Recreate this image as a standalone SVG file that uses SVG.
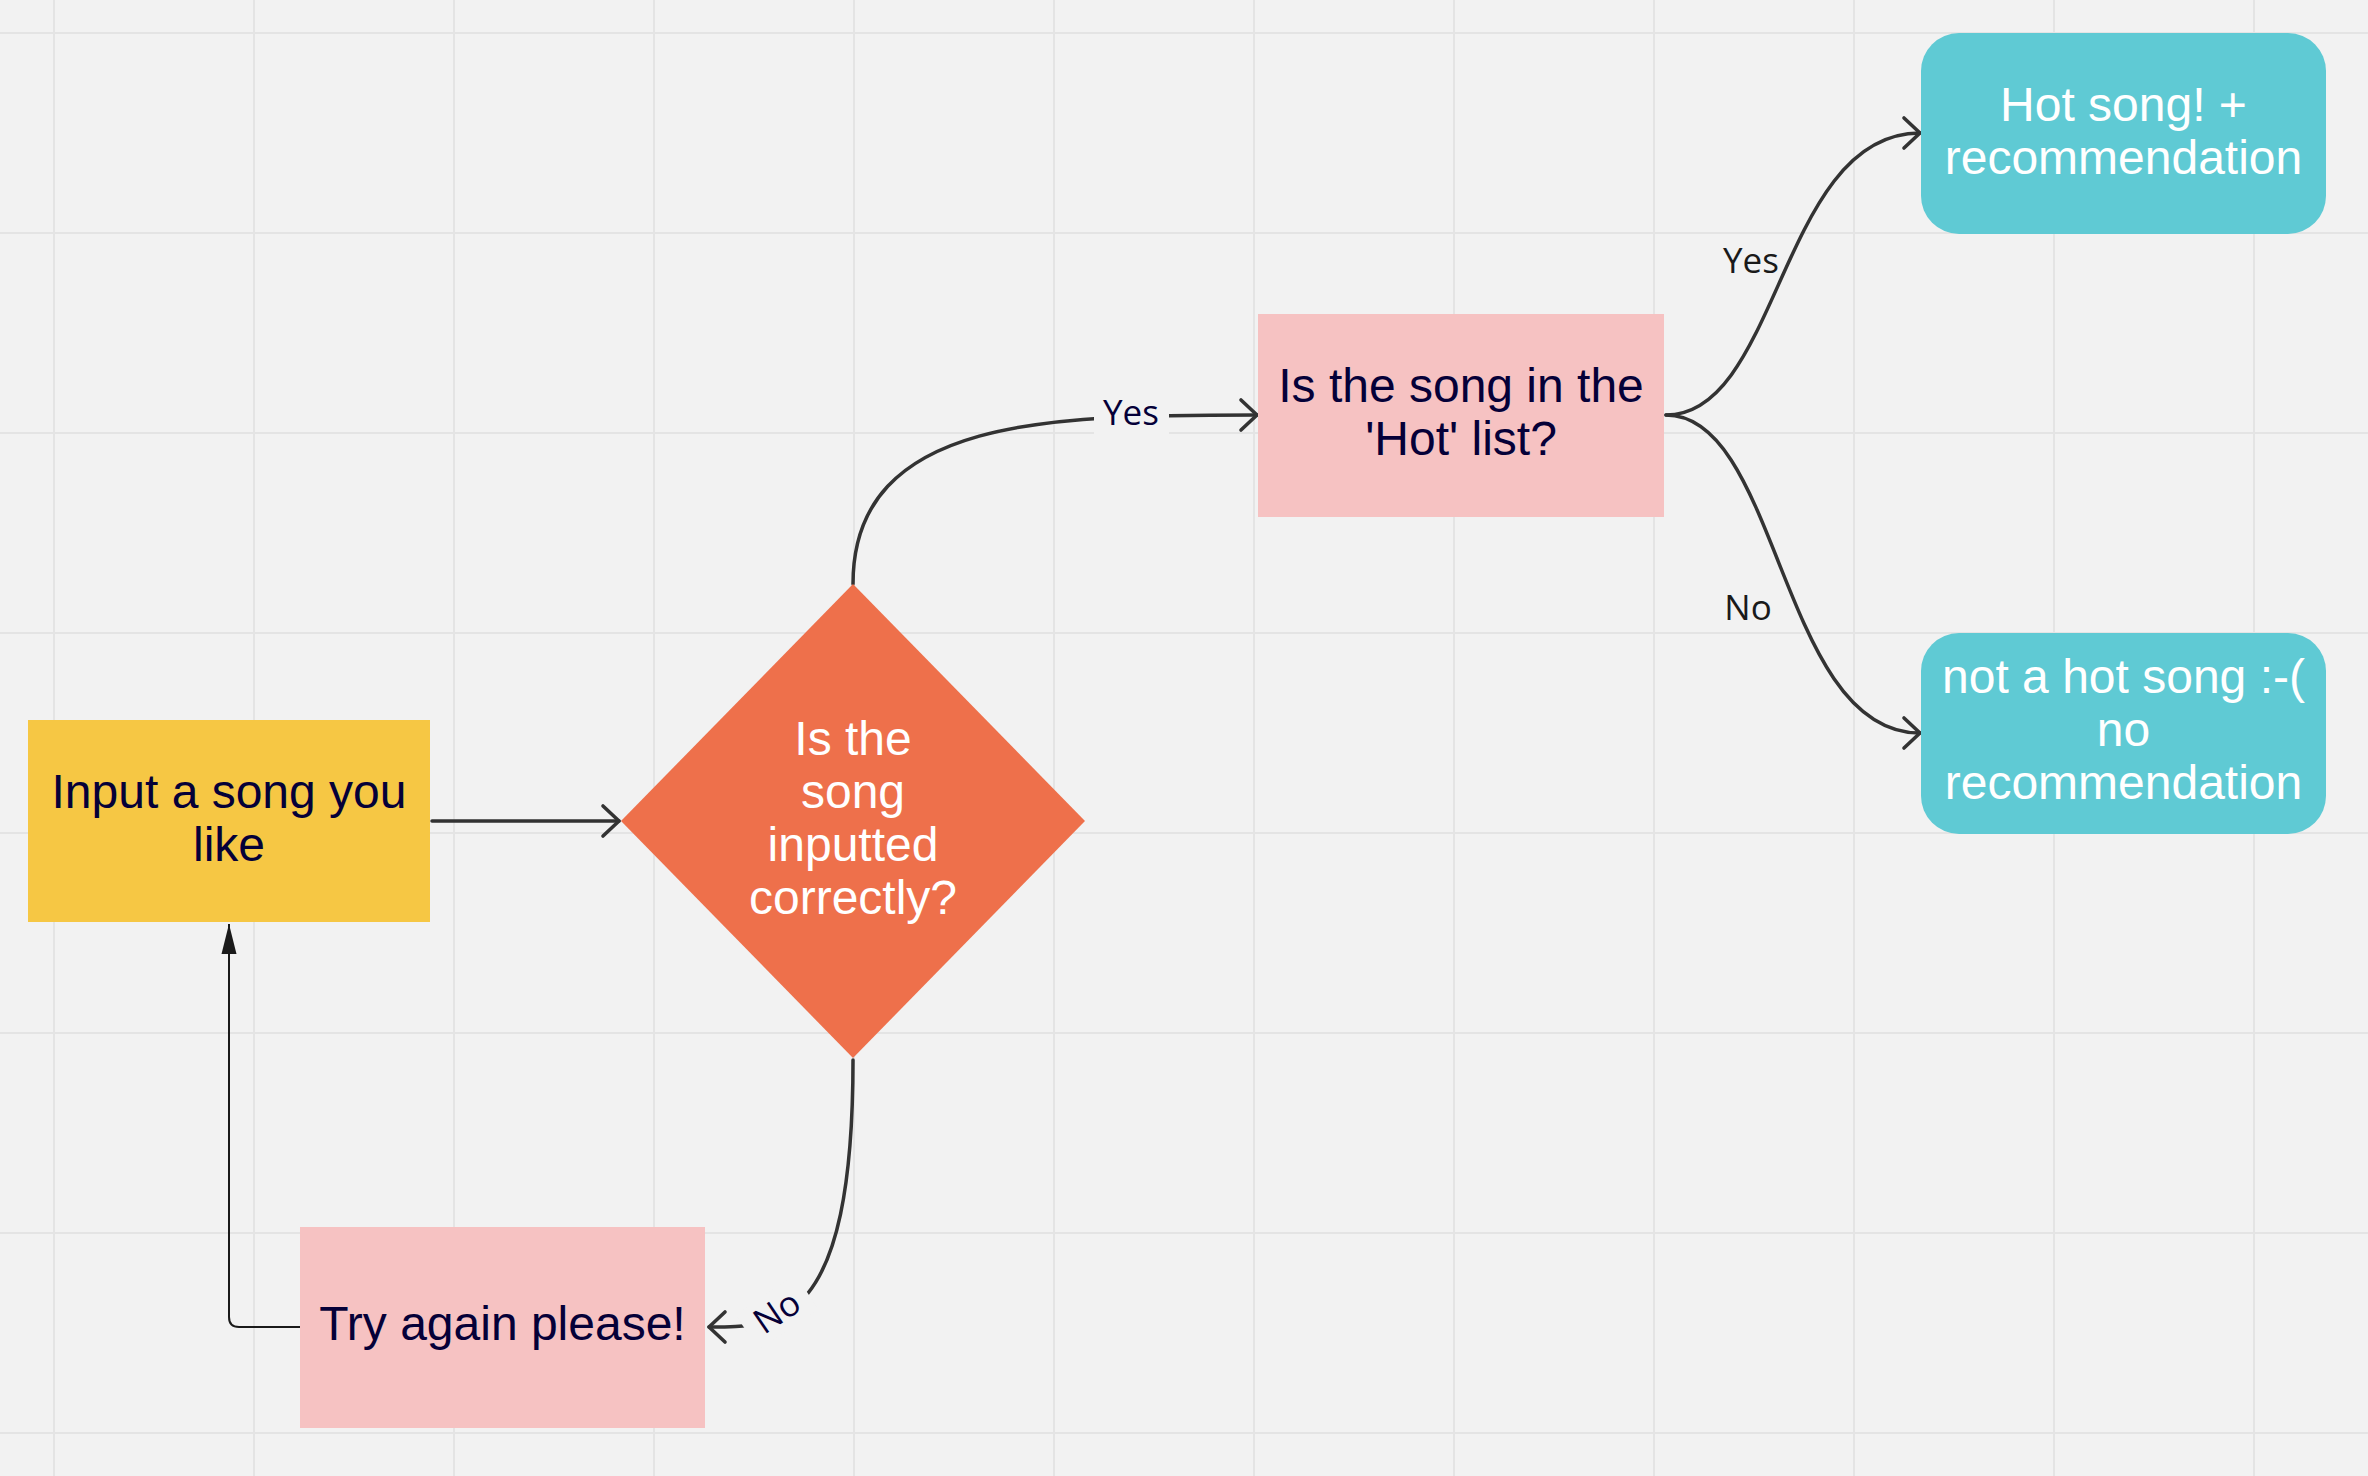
<svg xmlns="http://www.w3.org/2000/svg" width="2368" height="1476" viewBox="0 0 2368 1476">
<style>
.grid line{stroke:#e4e4e4;stroke-width:2}
.nt{font-family:"Liberation Sans",Arial,sans-serif;font-size:48px;text-anchor:middle}
.dark{fill:#050038}
.light{fill:#ffffff}
.edge{fill:none;stroke:#333333;stroke-width:3.5;stroke-linecap:round}
.lbl{font-family:"Open Sans","DejaVu Sans",sans-serif;font-size:35px;text-anchor:middle}
.mask{fill:#f2f2f2}
</style>
<defs>
<marker id="chev" markerUnits="userSpaceOnUse" markerWidth="40" markerHeight="40" viewBox="-20 -20 40 40" refX="0" refY="0" orient="auto" overflow="visible">
<path d="M-16,-15 L0,0 L-16,15" fill="none" stroke="#333333" stroke-width="3.6" stroke-linecap="round" stroke-linejoin="round"/>
</marker>
<marker id="tri" markerUnits="userSpaceOnUse" markerWidth="40" markerHeight="40" viewBox="-35 -20 40 40" refX="0" refY="0" orient="auto" overflow="visible">
<path d="M-30,-7.5 L0,0 L-30,7.5 Z" fill="#1a1a1a"/>
</marker>
</defs>
<rect width="2368" height="1476" fill="#f2f2f2"/>
<g class="grid">
<line x1="54" y1="0" x2="54" y2="1476"/>
<line x1="254" y1="0" x2="254" y2="1476"/>
<line x1="454" y1="0" x2="454" y2="1476"/>
<line x1="654" y1="0" x2="654" y2="1476"/>
<line x1="854" y1="0" x2="854" y2="1476"/>
<line x1="1054" y1="0" x2="1054" y2="1476"/>
<line x1="1254" y1="0" x2="1254" y2="1476"/>
<line x1="1454" y1="0" x2="1454" y2="1476"/>
<line x1="1654" y1="0" x2="1654" y2="1476"/>
<line x1="1854" y1="0" x2="1854" y2="1476"/>
<line x1="2054" y1="0" x2="2054" y2="1476"/>
<line x1="2254" y1="0" x2="2254" y2="1476"/>
<line x1="0" y1="33" x2="2368" y2="33"/>
<line x1="0" y1="233" x2="2368" y2="233"/>
<line x1="0" y1="433" x2="2368" y2="433"/>
<line x1="0" y1="633" x2="2368" y2="633"/>
<line x1="0" y1="833" x2="2368" y2="833"/>
<line x1="0" y1="1033" x2="2368" y2="1033"/>
<line x1="0" y1="1233" x2="2368" y2="1233"/>
<line x1="0" y1="1433" x2="2368" y2="1433"/>
</g>
<g id="connectors">
<path class="edge" d="M432,821 L619,821" marker-end="url(#chev)"/>
<path class="edge" d="M853,584 C853,415 1055,415 1257,415" marker-end="url(#chev)"/>
<rect class="mask" x="1094" y="394" width="75" height="42"/>
<text class="lbl dark" x="1131" y="425">Yes</text>
<path class="edge" d="M853,1060 C853,1327 780,1327 709,1327" marker-end="url(#chev)"/>
<g transform="translate(777,1312) rotate(-34)">
<rect class="mask" x="-36" y="-21" width="72" height="42"/>
<text class="lbl dark" x="0" y="12">No</text>
</g>
<path d="M300,1327 L239,1327 Q229,1327 229,1317 L229,924" fill="none" stroke="#1a1a1a" stroke-width="2" marker-end="url(#tri)"/>
<path class="edge" d="M1666,415 C1780,415 1780,133 1920,133" marker-end="url(#chev)"/>
<path class="edge" d="M1666,415 C1780,415 1780,733 1920,733" marker-end="url(#chev)"/>
<text class="lbl" fill="#1a1a1a" x="1751" y="273">Yes</text>
<text class="lbl" fill="#1a1a1a" x="1748" y="620">No</text>
</g>
<g id="input">
<rect x="28" y="720" width="402" height="202" fill="#f6c744"/>
<text class="nt dark" x="229" y="808">Input a song you</text>
<text class="nt dark" x="229" y="861">like</text>
</g>
<g id="decision-correct">
<polygon points="853,584 1085,821 853,1058 621,821" fill="#ee704b"/>
<text class="nt light" x="853" y="755">Is the</text>
<text class="nt light" x="853" y="808">song</text>
<text class="nt light" x="853" y="861">inputted</text>
<text class="nt light" x="853" y="914">correctly?</text>
</g>
<g id="decision-hot">
<rect x="1258" y="314" width="406" height="203" fill="#f6c2c2"/>
<text class="nt dark" x="1461" y="402">Is the song in the</text>
<text class="nt dark" x="1461" y="455">'Hot' list?</text>
</g>
<g id="try-again">
<rect x="300" y="1227" width="405" height="201" fill="#f6c2c2"/>
<text class="nt dark" x="502.5" y="1340">Try again please!</text>
</g>
<g id="hot-song">
<rect x="1921" y="33" width="405" height="201" rx="38" ry="38" fill="#5fcad4"/>
<text class="nt light" x="2123.5" y="121">Hot song! +</text>
<text class="nt light" x="2123.5" y="174">recommendation</text>
</g>
<g id="not-hot">
<rect x="1921" y="633" width="405" height="201" rx="38" ry="38" fill="#5fcad4"/>
<text class="nt light" x="2123.5" y="693">not a hot song :-(</text>
<text class="nt light" x="2123.5" y="746">no</text>
<text class="nt light" x="2123.5" y="799">recommendation</text>
</g>
</svg>
